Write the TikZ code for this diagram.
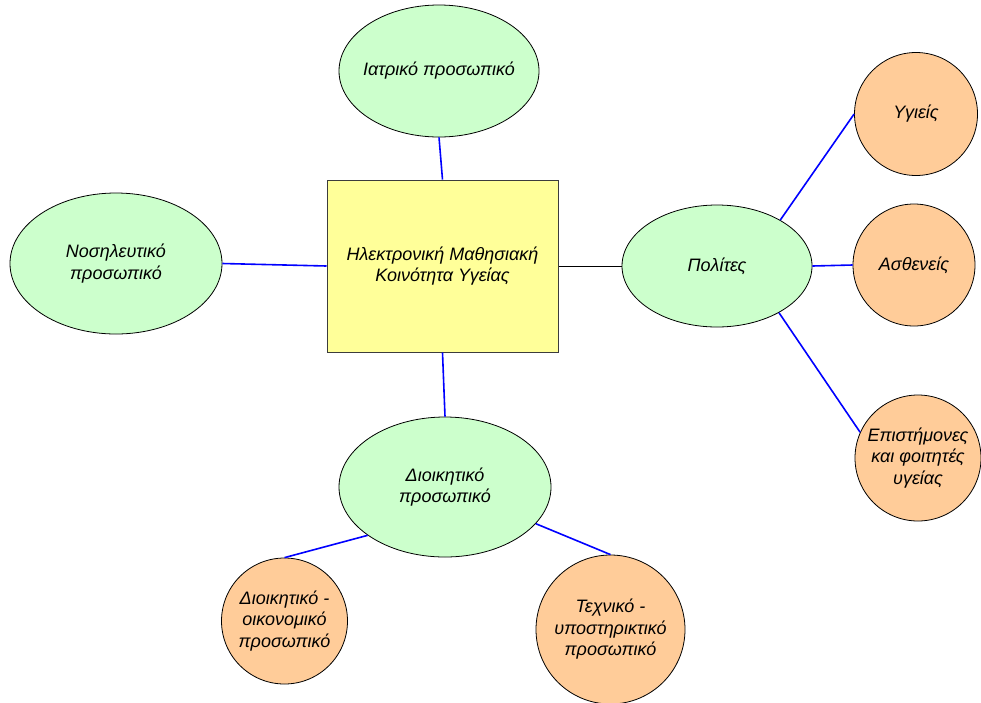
\documentclass[tikz,border=0pt]{standalone}
\usepackage{fontspec}
\setmainfont{Liberation Sans}
\usetikzlibrary{shapes.geometric}
\definecolor{boxfill}{RGB}{255,255,153}
\definecolor{greenfill}{RGB}{204,255,204}
\definecolor{orangefill}{RGB}{255,204,153}
\definecolor{boxline}{RGB}{60,60,60}
\tikzset{
  label text/.style={font=\fontsize{18}{21.5}\selectfont\itshape, align=center, text=black},
  hub/.style={label text, draw=boxline, line width=1pt, fill=boxfill, rectangle, minimum width=231pt, minimum height=172pt, inner sep=0pt},
  % negative inner sep: the outline size comes from the minimum sizes only
  group/.style={label text, draw=black, line width=0.8pt, fill=greenfill, ellipse, inner sep=-14pt},
  member/.style={label text, draw=black, line width=0.8pt, fill=orangefill, circle, inner sep=-14pt},
  link/.style={draw=blue, line width=1.6pt},
  plainlink/.style={draw=black, line width=0.7pt}
}
\begin{document}
\begin{tikzpicture}[x=1pt, y=-1pt]
\useasboundingbox (0,0) rectangle (981,702);

% central box
\node[hub] (core) at (442.5,266) {Ηλεκτρονική Μαθησιακή\\Κοινότητα Υγείας};

% staff groups and citizens
\node[group, minimum width=200pt, minimum height=132pt] (iatr) at (439,71) {Ιατρικό προσωπικό};
\node[group, minimum width=212pt, minimum height=141pt] (nosi) at (116,263.5) {Νοσηλευτικό\\προσωπικό};
\node[group, minimum width=190pt, minimum height=122pt] (pol) at (717,266) {Πολίτες};
\node[group, minimum width=212pt, minimum height=140pt] (dioik) at (445,487) {Διοικητικό\\προσωπικό};

% citizen categories
\node[member, minimum size=123pt] (ygi) at (916,114) {Υγιείς};
\node[member, minimum size=122pt] (asth) at (914,265) {Ασθενείς};
\node[member, minimum size=126pt] (epi) at (918,458) {Επιστήμονες\\και φοιτητές\\υγείας};

% administrative subgroups
\node[member, minimum size=126pt] (oik) at (284.5,621) {Διοικητικό -\\οικονομικό\\προσωπικό};
\node[member, minimum size=149pt] (tech) at (610.5,629.5) {Τεχνικό -\\υποστηρικτικό\\προσωπικό};

% connectors
\draw[link] (iatr.south) -- (core.north);
\draw[link] (nosi.east) -- (core.west);
\draw[plainlink] (core.east) -- (pol.west);
\draw[link] (core.south) -- (dioik.north);
\draw[link] (pol.36) -- (ygi.west);
\draw[link] (pol.east) -- (asth.west);
\draw[link] (pol.-37) -- (epi.156);
\draw[link] (dioik.212) -- (oik.north);
\draw[link] (dioik.-22) -- (tech.north);
\end{tikzpicture}
\end{document}
